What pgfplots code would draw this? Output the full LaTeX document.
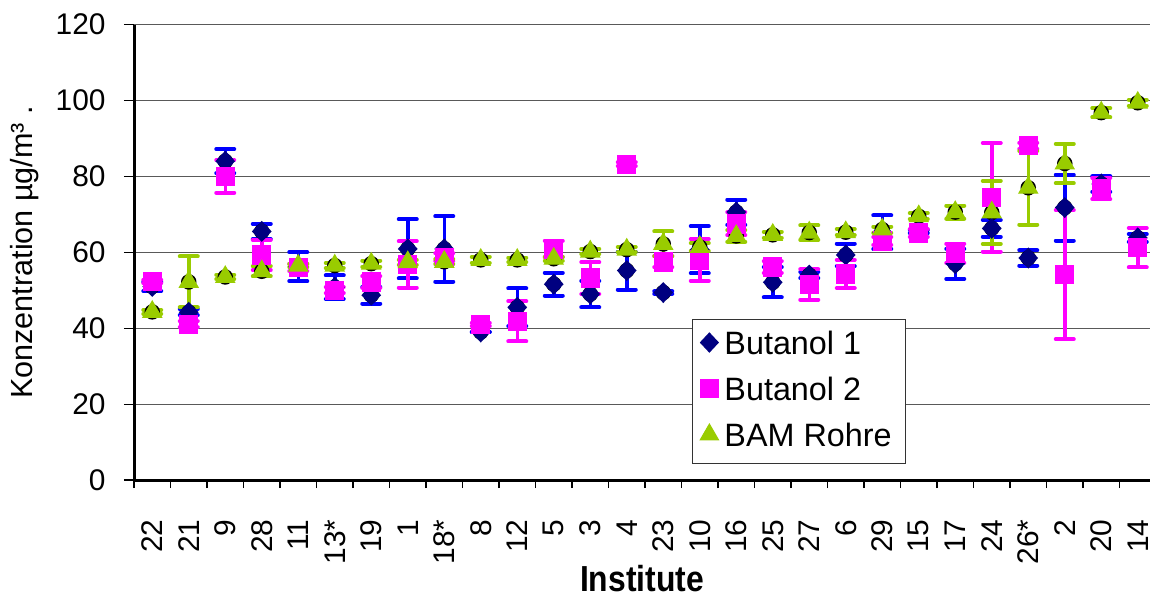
\documentclass[border=0pt]{standalone}
\usepackage{fontspec}
\setmainfont{Liberation Sans}
\newfontfamily\titlefont[FakeStretch=0.88]{Liberation Sans}
\usepackage{pgfplots}
\pgfplotsset{compat=1.18}
\usepackage{pgfplotstable}

\definecolor{bnavy}{HTML}{000080}
\definecolor{bblue}{HTML}{0000FF}
\definecolor{bpink}{HTML}{FF00FF}
\definecolor{bgreen}{HTML}{99CC00}

% x: position of the institute, b1/b2/g: mean, e*: half error
\pgfplotstableread{
x  b1   e1   b2   e2   g    eg
0  51.0 1.2  52.3 0.5  44.3 0.5
1  44.2 0.8  41.0 0.8  52.2 6.7
2  84.0 3.2  80.0 4.3  53.5 0.6
3  65.5 2.0  59.3 4.0  55.0 1.3
4  56.2 3.8  56.0 1.0  56.5 0.5
5  50.8 3.1  50.0 0.8  56.5 0.7
6  48.7 2.2  52.2 1.5  57.0 0.8
7  60.9 7.8  56.8 6.1  57.4 0.7
8  60.9 8.6  58.7 1.0  57.5 0.7
9  39.0 0.0  41.0 0.5  58.0 0.8
10 45.5 5.0  41.8 5.3  58.0 0.6
11 51.6 3.0  60.9 2.2  58.3 0.5
12 49.0 3.5  53.2 4.2  60.2 0.7
13 55.2 5.0  83.2 0.5  60.7 0.7
14 49.4 0.3  57.5 1.5  62.2 3.3
15 60.7 6.2  58.0 5.5  61.4 1.0
16 70.6 3.3  67.5 3.0  64.3 1.5
17 52.1 4.0  56.1 1.5  64.6 0.8
18 54.0 0.8  51.5 4.0  65.2 1.9
19 59.3 3.0  54.3 3.7  65.3 0.8
20 65.3 4.4  63.0 1.0  66.0 0.8
21 65.5 0.5  65.1 1.0  69.5 0.8
22 57.0 4.0  59.8 2.5  70.6 1.7
23 66.3 2.2  74.5 14.3 70.5 8.3
24 58.5 2.0  88.1 0.8  77.0 9.7
25 71.8 8.7  54.1 17.0 83.4 5.2
26 78.0 2.0  76.8 2.8  96.8 1.2
27 63.8 1.0  61.2 5.2  99.4 0.8
}\data

\begin{document}
\begin{tikzpicture}
\begin{axis}[
  name=ax,
  scale only axis,
  width=101.6mm, height=45.54mm,
  xmin=-0.5, xmax=27.336,
  ymin=0, ymax=120,
  axis x line=bottom, axis y line=left,
  axis line style={-, black, line width=0.3mm},
  ytick={0,20,...,120},
  ymajorgrids,
  major grid style={black!65, line width=0.12mm},
  tick align=outside,
  major tick length=1mm,
  minor tick length=0.8mm,
  tick style={black, line width=0.12mm},
  xtick={0,...,27},
  xticklabels={22,21,9,28,11,13*,19,1,18*,8,12,5,3,4,23,10,16,25,27,6,29,15,17,24,26*,2,20,14},
  major x tick style={draw=none},
  minor xtick={-0.5,0.5,...,26.5},
  xticklabel style={rotate=90, anchor=east, font=\fontsize{8.5}{10}\selectfont},
  xticklabel shift=1.7mm,
  yticklabel style={font=\fontsize{8.5}{10}\selectfont},
  yticklabel shift=0.6mm,
  /pgf/number format/assume math mode=true,
  every axis y label/.style={at={(axis description cs:-0.108,0.5)}, rotate=90, anchor=center},
  ylabel={\fontsize{8.7}{10}\selectfont Konzentration µg/m³ .},
  every axis x label/.style={at={(axis description cs:0.5,-0.244)}, anchor=base},
  xlabel={\titlefont\bfseries\fontsize{10.3}{12}\selectfont Institute},
  legend style={at={(0.549,0.3535)}, anchor=north west, draw=black!80, line width=0.1mm,
    fill=white, inner xsep=0.8mm, inner ysep=0.3mm, row sep=0pt,
    nodes={inner xsep=0.6mm, inner ysep=0.85mm, text height=2.3mm, text depth=0.6mm,
      font=\fontsize{9.2}{10}\selectfont}},
  legend cell align=left,
  legend image code/.code={\draw[#1] plot coordinates {(0mm,0.3mm)};},
]
% error bars first
\addplot[only marks, mark=none, forget plot,
  error bars/.cd, y dir=both, y explicit,
  error bar style={bblue, line width=0.35mm},
  error mark options={rotate=90, bblue, line width=0.4mm, mark size=0.9mm, line cap=round}]
  table[x=x, y=b1, y error=e1] {\data};
\addplot[only marks, mark=none, forget plot,
  error bars/.cd, y dir=both, y explicit,
  error bar style={bpink, line width=0.35mm},
  error mark options={rotate=90, bpink, line width=0.4mm, mark size=0.9mm, line cap=round}]
  table[x=x, y=b2, y error=e2] {\data};
\addplot[only marks, mark=none, forget plot,
  error bars/.cd, y dir=both, y explicit,
  error bar style={bgreen, line width=0.35mm},
  error mark options={rotate=90, bgreen, line width=0.4mm, mark size=0.9mm, line cap=round}]
  table[x=x, y=g, y error=eg] {\data};
% markers
\addplot[only marks, mark=diamond*, mark size=0.95mm, mark options={xscale=1.25, draw=bnavy, fill=bnavy}]
  table[x=x, y=b1] {\data};
\addlegendentry{Butanol 1}
\addplot[only marks, mark=square*, mark size=0.9mm, mark options={draw=bpink, fill=bpink}]
  table[x=x, y=b2] {\data};
\addlegendentry{Butanol 2}
\addplot[only marks, mark=triangle*, mark size=1.05mm, mark options={draw=bgreen, fill=bgreen}]
  table[x=x, y=g] {\data};
\addlegendentry{BAM Rohre}
\end{axis}
\pgfresetboundingbox
\path[use as bounding box] ([shift={(-13.4mm,-11.7mm)}]ax.south west) rectangle ([shift={(0mm,2.46mm)}]ax.north east);
\end{tikzpicture}
\end{document}
